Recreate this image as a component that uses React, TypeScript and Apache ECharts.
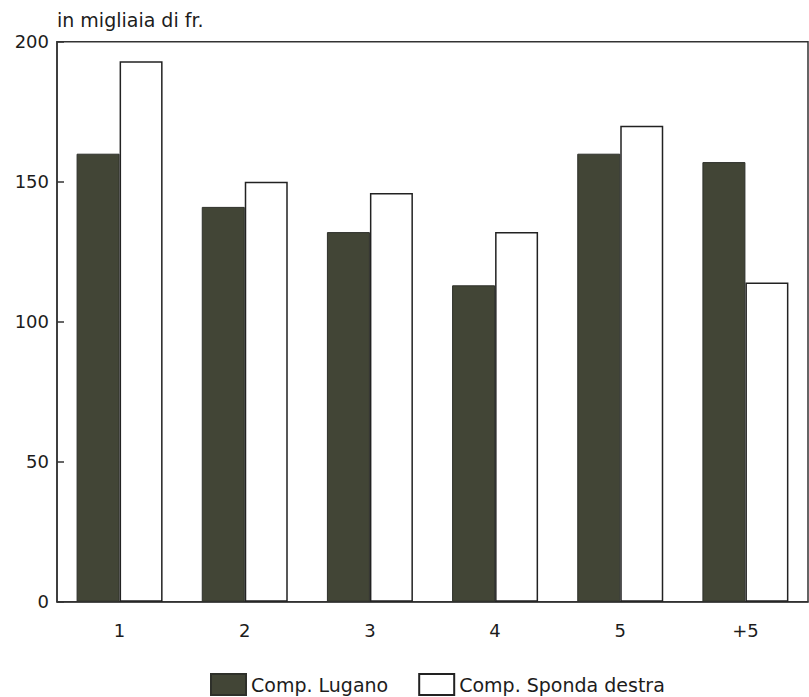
import React, { useEffect, useRef } from "react";
import * as echarts from "echarts";

const categories = ["1", "2", "3", "4", "5", "+5"];
const lugano = [160, 141, 132, 113, 160, 157];
const spondaDestra = [193, 150, 146, 132, 170, 114];
const yTicks = [0, 50, 100, 150, 200];
const unitLabel = "in migliaia di fr.";
const seriesNames = ["Comp. Lugano", "Comp. Sponda destra"];

const FONT = "DejaVu Sans";
const INK = "#1c1c1c";

export default function App() {
  const ref = useRef<HTMLDivElement>(null);
  useEffect(() => {
    if (!ref.current) return;
    const chart = echarts.init(ref.current, null, { renderer: "svg" });
    chart.setOption({
      animation: false,
      backgroundColor: "#fff",
      title: {
        text: unitLabel,
        left: 52,
        top: 5,
        textStyle: { fontFamily: FONT, fontSize: 19, fontWeight: "normal", color: INK },
      },
      legend: {
        left: 205,
        top: 668,
        itemWidth: 35,
        itemHeight: 21,
        itemGap: 30,
        textStyle: { fontFamily: FONT, fontSize: 19, color: INK },
        data: [
          { name: seriesNames[0], icon: "rect" },
          { name: seriesNames[1], icon: "rect" },
        ],
      },
      grid: {
        left: 57,
        right: 1,
        top: 41.7,
        bottom: 95.3,
        show: true,
        borderColor: "#333",
        borderWidth: 1.5,
        containLabel: false,
      },
      xAxis: {
        type: "category",
        data: categories,
        axisLine: { lineStyle: { color: "#333", width: 1.5 } },
        axisTick: { show: false },
        axisLabel: { margin: 20, fontFamily: FONT, fontSize: 18, color: INK },
      },
      yAxis: {
        type: "value",
        min: yTicks[0],
        max: yTicks[yTicks.length - 1],
        interval: 50,
        splitLine: { show: false },
        axisLine: { show: true, lineStyle: { color: "#333", width: 1.5 } },
        axisTick: { show: true, inside: true, length: 7, lineStyle: { color: "#333", width: 1.5 } },
        axisLabel: { margin: 8, fontFamily: FONT, fontSize: 18, color: INK },
      },
      series: [
        {
          name: seriesNames[0],
          type: "bar",
          data: lugano,
          barWidth: 43,
          barGap: "0%",
          itemStyle: { color: "#424536", borderColor: "#2e302a", borderWidth: 1 },
        },
        {
          name: seriesNames[1],
          type: "bar",
          data: spondaDestra,
          barWidth: 43,
          itemStyle: { color: "#ffffff", borderColor: "#222", borderWidth: 1.5 },
        },
      ],
    });
    return () => chart.dispose();
  }, []);
  return (
    <div
      ref={ref}
      style={{ position: "absolute", left: 0, top: 0, width: 809, height: 697 }}
    />
  );
}
